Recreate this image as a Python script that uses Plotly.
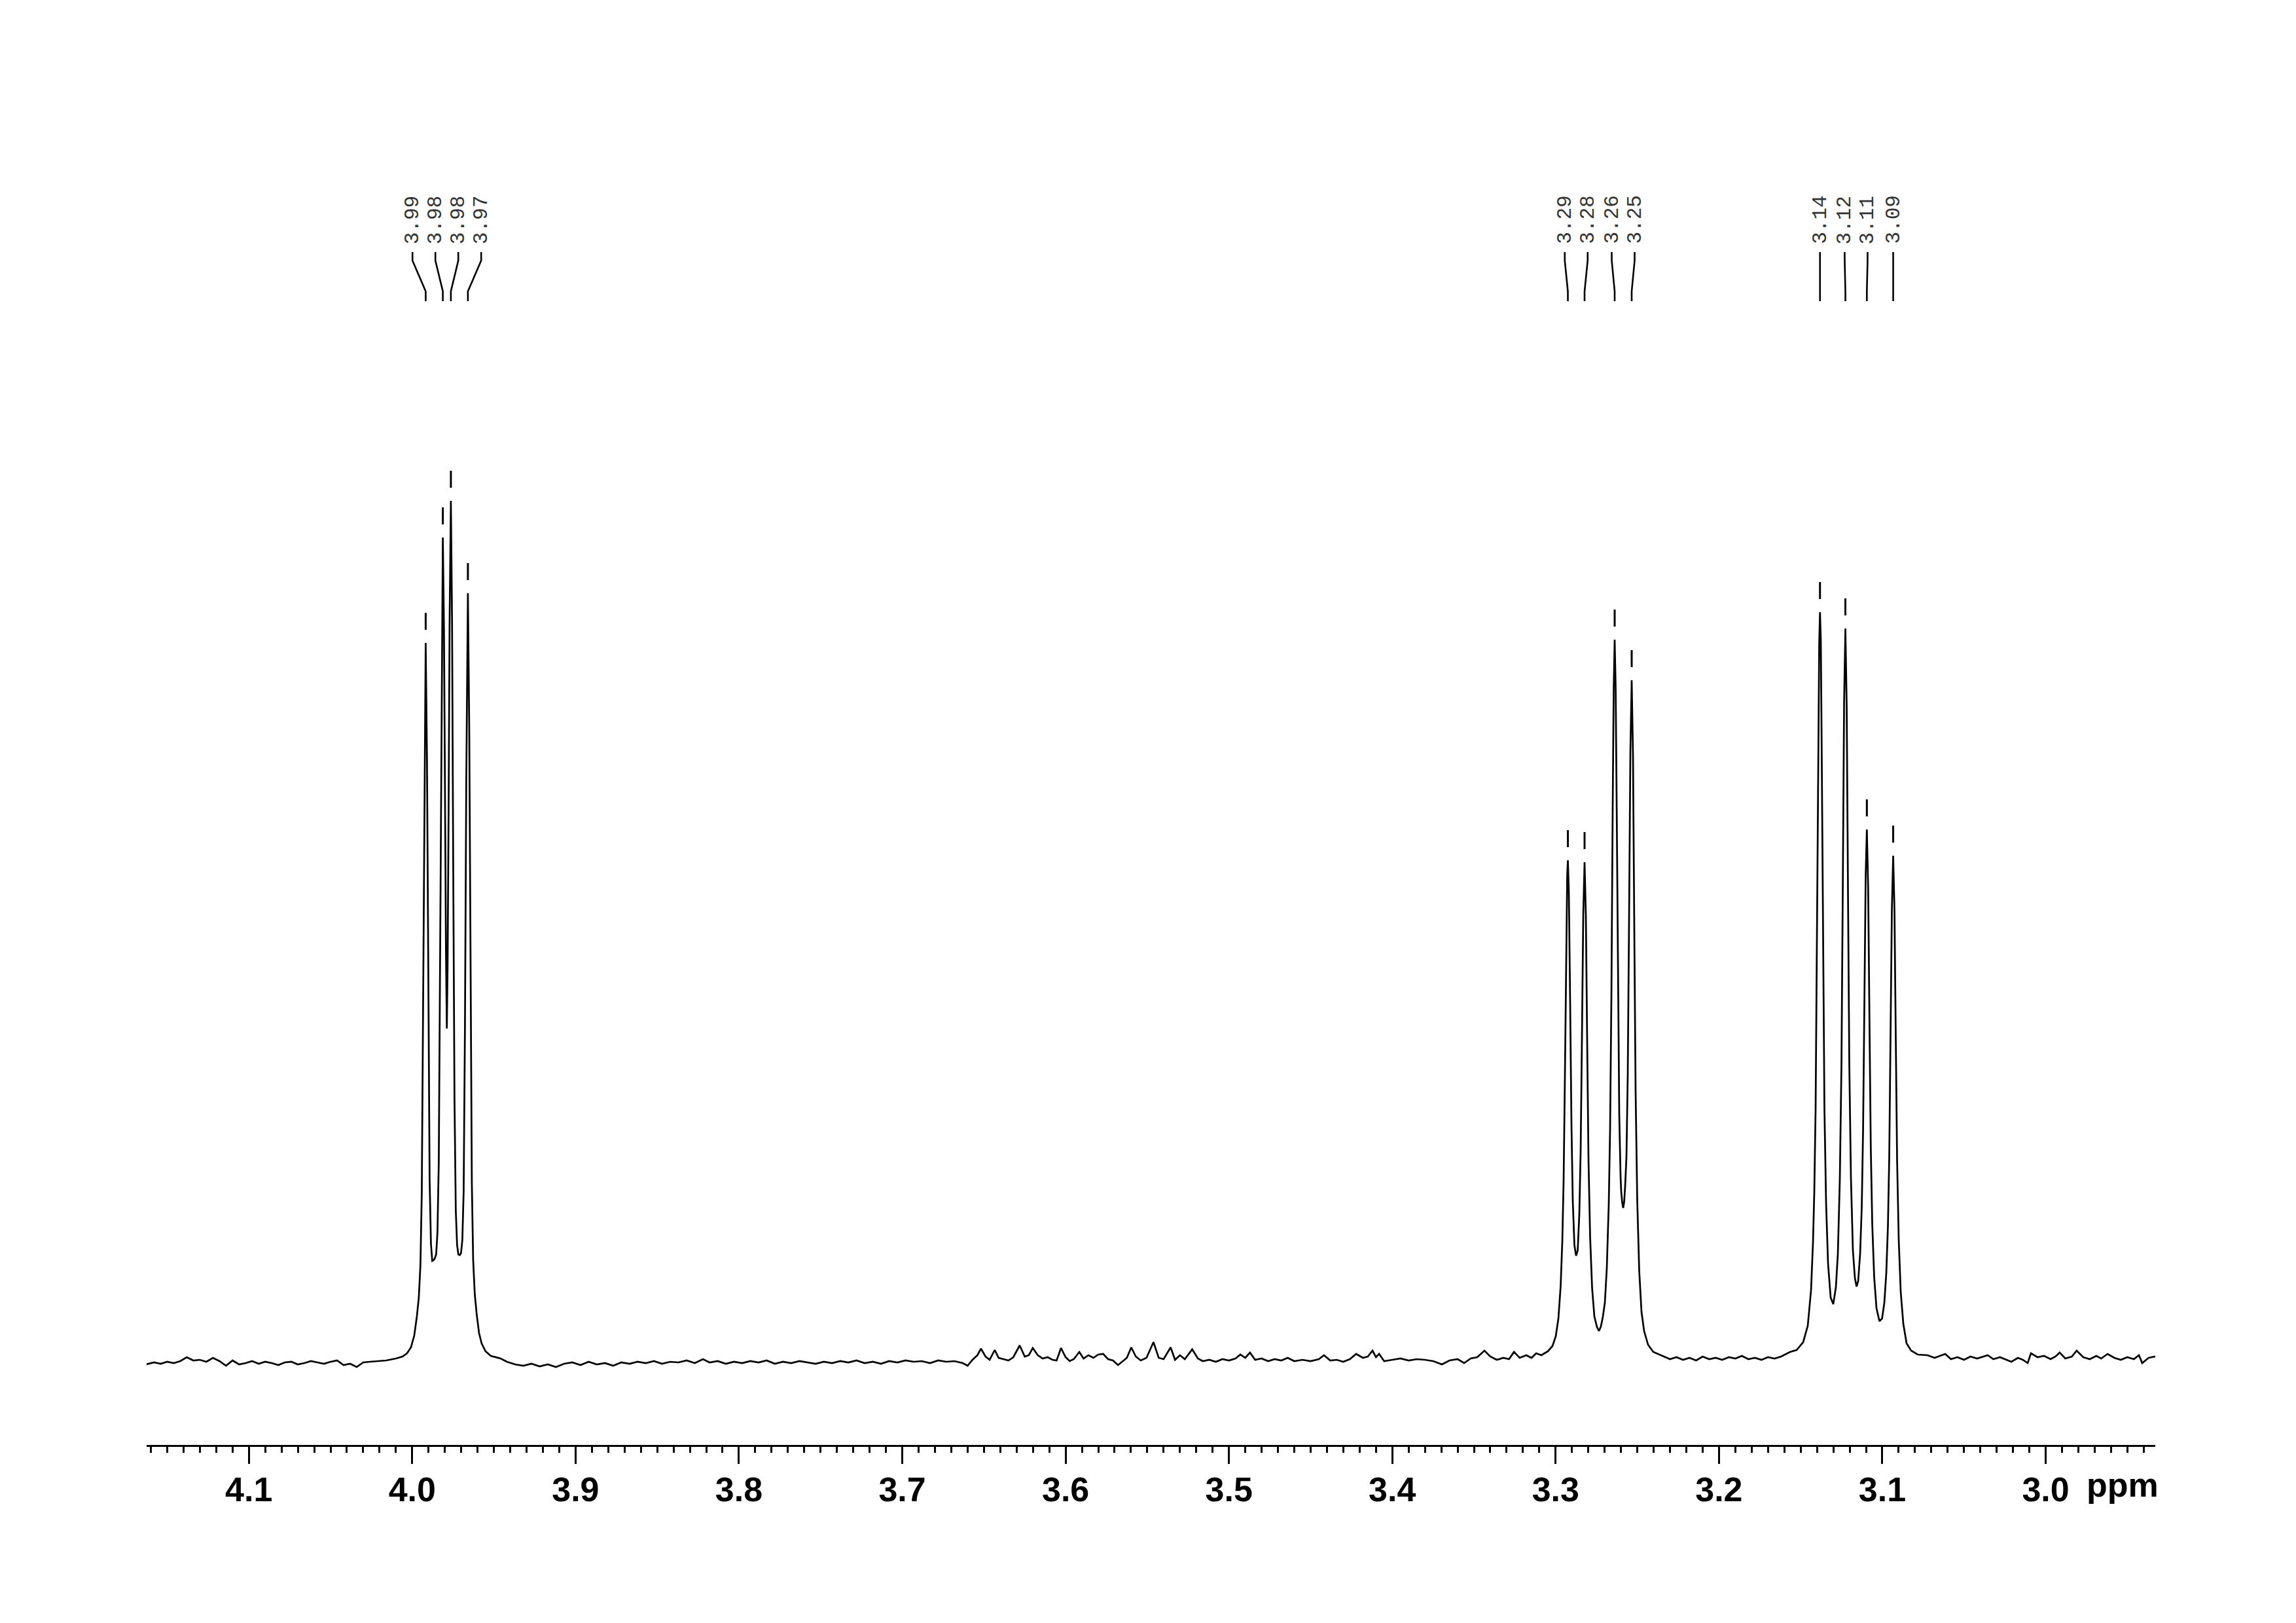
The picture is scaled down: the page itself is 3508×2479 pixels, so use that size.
import plotly.graph_objects as go

# ---------------- data: 1H NMR spectrum (chemical shift ppm, intensity a.u.) ----------------
base_left = [(4.163, -2), (4.158, 1), (4.154, -1), (4.150, 2), (4.146, 0), (4.142, 3), (4.138, 9),
             (4.134, 4), (4.130, 5), (4.126, 2), (4.122, 8), (4.118, 3), (4.114, -4), (4.110, 4),
             (4.106, -2), (4.102, 0), (4.098, 3), (4.094, -1), (4.090, 2), (4.086, 0), (4.082, -3),
             (4.078, 1), (4.074, 2), (4.070, -2), (4.066, 0), (4.062, 3), (4.058, 1), (4.054, -1),
             (4.050, 2), (4.046, 4), (4.042, -3), (4.038, -1), (4.034, -6), (4.030, 1), (4.026, 2),
             (4.022, 3)]

multiplet_399 = [(4.01599, 4), (4.00998, 7), (4.00597, 10), (4.00317, 15), (4.00077, 24), (3.99876, 42),
                 (3.99716, 71), (3.99596, 100), (3.99496, 150), (3.99415, 259), (3.99335, 547),
                 (3.99255, 913), (3.99175, 1100), (3.99095, 921), (3.99015, 562), (3.98935, 281),
                 (3.98854, 183), (3.98774, 156), (3.98694, 157), (3.98614, 160), (3.98534, 166),
                 (3.98454, 200), (3.98374, 306), (3.98294, 602), (3.98213, 1007), (3.98125, 1261),
                 (3.98053, 1116), (3.97973, 757), (3.97933, 630), (3.97881, 511), (3.97833, 607),
                 (3.97773, 842), (3.97712, 1129), (3.97632, 1317), (3.97560, 1131), (3.97492, 772),
                 (3.97412, 404), (3.97332, 233), (3.97252, 180), (3.97172, 166), (3.97091, 165),
                 (3.97011, 168), (3.96931, 188), (3.96851, 262), (3.96771, 512), (3.96691, 886),
                 (3.96591, 1176), (3.96510, 974), (3.96430, 581), (3.96350, 276), (3.96270, 158),
                 (3.96170, 105), (3.96050, 74), (3.95909, 46), (3.95749, 30), (3.95509, 18),
                 (3.95188, 11), (3.94587, 7)]

base_middle = [(3.942, 2), (3.937, -2), (3.932, -4), (3.927, -1), (3.922, -5), (3.917, -2), (3.912, -6),
               (3.907, -1), (3.902, 1), (3.897, -3), (3.892, 2), (3.887, -2), (3.882, 0), (3.877, -4),
               (3.872, 1), (3.867, -1), (3.862, 2), (3.857, 0), (3.852, 3), (3.847, -1), (3.842, 2),
               (3.837, 1), (3.832, 4), (3.827, 0), (3.822, 6), (3.818, 1), (3.813, 3), (3.808, -1),
               (3.803, 2), (3.798, 0), (3.793, 3), (3.788, 1), (3.783, 4), (3.778, -1), (3.773, 2),
               (3.768, 0), (3.763, 3), (3.758, 1), (3.753, -1), (3.748, 2), (3.743, 0), (3.738, 3),
               (3.733, 1), (3.728, 4), (3.723, 0), (3.718, 2), (3.713, -1), (3.708, 3), (3.703, 1),
               (3.698, 4), (3.693, 2), (3.688, 3), (3.683, 0), (3.678, 4), (3.673, 2), (3.668, 3),
               (3.663, 0), (3.660, -4), (3.657, 5), (3.654, 12), (3.6518, 22), (3.649, 10),
               (3.6465, 5), (3.6434, 20), (3.641, 8), (3.638, 6), (3.635, 4), (3.632, 9),
               (3.6281, 27), (3.625, 10), (3.6225, 12), (3.6201, 23), (3.617, 12), (3.614, 7),
               (3.611, 9), (3.608, 5), (3.6055, 4), (3.6028, 23), (3.600, 9), (3.5975, 3),
               (3.595, 6), (3.5916, 17), (3.589, 7), (3.586, 12), (3.583, 8), (3.580, 13),
               (3.577, 14), (3.574, 6), (3.571, 4), (3.5679, -3), (3.565, 3), (3.5625, 8),
               (3.5598, 24), (3.557, 10), (3.554, 4), (3.5505, 8), (3.5462, 32), (3.543, 8),
               (3.540, 6), (3.5357, 24), (3.533, 5), (3.530, 12), (3.527, 6), (3.5225, 21),
               (3.519, 7), (3.516, 3), (3.512, 5), (3.508, 2), (3.504, 6), (3.500, 4), (3.496, 7),
               (3.493, 13), (3.490, 8), (3.4871, 16), (3.484, 5), (3.480, 7), (3.476, 3),
               (3.472, 6), (3.468, 4), (3.464, 8), (3.460, 3), (3.455, 5), (3.450, 3), (3.445, 6),
               (3.4418, 12), (3.438, 4), (3.434, 5), (3.430, 2), (3.426, 6), (3.4221, 14),
               (3.418, 8), (3.415, 10), (3.4121, 19), (3.410, 9), (3.4081, 14), (3.405, 3),
               (3.400, 5), (3.395, 7), (3.390, 4), (3.385, 6), (3.380, 5), (3.375, 3),
               (3.3696, -2), (3.365, 4), (3.360, 6), (3.356, 0), (3.352, 7), (3.348, 9),
               (3.3436, 19), (3.340, 10), (3.336, 5), (3.332, 8), (3.3285, 6), (3.3255, 17),
               (3.322, 8), (3.318, 12)]

multiplet_327 = [(3.31475, 8), (3.3119, 15), (3.30874, 12), (3.30473, 18), (3.30193, 26), (3.29992, 41),
                 (3.29832, 68), (3.29692, 118), (3.29592, 186), (3.29512, 278), (3.29431, 440),
                 (3.29351, 640), (3.29291, 746), (3.29251, 768), (3.29191, 719), (3.29111, 550),
                 (3.29031, 364), (3.28951, 248), (3.28850, 180), (3.28750, 164), (3.28650, 172),
                 (3.28550, 228), (3.28470, 322), (3.28390, 495), (3.28309, 685), (3.28229, 765),
                 (3.28149, 683), (3.28069, 490), (3.27989, 311), (3.27889, 193), (3.27768, 115),
                 (3.27628, 71), (3.27468, 55), (3.27348, 49), (3.27228, 56), (3.27107, 71),
                 (3.26987, 92), (3.26867, 145), (3.26747, 243), (3.26667, 356), (3.26586, 562),
                 (3.26506, 853), (3.26446, 1028), (3.26386, 1105), (3.26326, 1032), (3.26266, 861),
                 (3.26186, 577), (3.26106, 380), (3.26025, 285), (3.25985, 262), (3.25925, 245),
                 (3.25865, 237), (3.25805, 246), (3.25745, 270), (3.25665, 315), (3.25585, 439),
                 (3.25505, 676), (3.25424, 935), (3.25344, 1043), (3.25264, 928), (3.25184, 660),
                 (3.25104, 414), (3.25004, 249), (3.24883, 141), (3.24743, 78), (3.24583, 49),
                 (3.24342, 28), (3.24022, 17), (3.23461, 11)]

base_gap = [(3.230, 6), (3.226, 9), (3.222, 5), (3.218, 8), (3.214, 4), (3.210, 10), (3.206, 6),
            (3.202, 8), (3.198, 5), (3.194, 9), (3.190, 7), (3.186, 11), (3.182, 6), (3.178, 8),
            (3.174, 5), (3.170, 9), (3.166, 7), (3.162, 10)]

multiplet_312 = [(3.15647, 17), (3.15247, 20), (3.14846, 32), (3.14565, 57), (3.14365, 111),
                 (3.14245, 184), (3.14165, 262), (3.14085, 387), (3.14004, 624), (3.13924, 930),
                 (3.13864, 1100), (3.13816, 1147), (3.13764, 1103), (3.13704, 912), (3.13624, 613),
                 (3.13544, 389), (3.13443, 244), (3.13323, 152), (3.13163, 100), (3.13003, 90),
                 (3.12842, 116), (3.12722, 167), (3.12602, 280), (3.12502, 455), (3.12422, 720),
                 (3.12341, 1007), (3.12261, 1122), (3.12181, 1002), (3.12101, 716), (3.12021, 455),
                 (3.11921, 282), (3.11801, 172), (3.11680, 130), (3.11580, 117), (3.11480, 125),
                 (3.11360, 167), (3.11260, 238), (3.11179, 355), (3.11099, 548), (3.11019, 745),
                 (3.10947, 815), (3.10867, 725), (3.10787, 520), (3.10707, 330), (3.10618, 213),
                 (3.10498, 131), (3.10358, 84), (3.10178, 64), (3.10017, 68), (3.09877, 92),
                 (3.09757, 138), (3.09657, 209), (3.09577, 314), (3.09496, 497), (3.09416, 693),
                 (3.09336, 775), (3.09256, 691), (3.09176, 494), (3.09096, 311), (3.08996, 189),
                 (3.08875, 109), (3.08715, 60), (3.08515, 30), (3.08234, 19), (3.07834, 13),
                 (3.07233, 12)]

base_right = [(3.068, 8), (3.0615, 14), (3.058, 6), (3.054, 9), (3.050, 5), (3.046, 10), (3.042, 7),
              (3.0355, 12), (3.032, 6), (3.028, 9), (3.024, 5), (3.021, 2), (3.017, 8), (3.014, 5),
              (3.011, 0), (3.009, 15), (3.005, 9), (3.001, 11), (2.997, 6), (2.994, 10),
              (2.9914, 16), (2.988, 7), (2.984, 10), (2.981, 19), (2.977, 9), (2.973, 6),
              (2.969, 11), (2.966, 7), (2.9621, 14), (2.958, 8), (2.954, 5), (2.950, 9),
              (2.946, 6), (2.9429, 12), (2.9409, 0), (2.937, 8), (2.933, 10), (2.931, 7)]

# picked peaks (ppm)
peak_ppm = [3.99175, 3.98125, 3.97632, 3.96591,
            3.29251, 3.28229, 3.26386, 3.25344,
            3.13816, 3.12261, 3.10947, 3.09336]

tick_vals = [4.1, 4.0, 3.9, 3.8, 3.7, 3.6, 3.5, 3.4, 3.3, 3.2, 3.1, 3.0]
tick_text = ["4.1", "4.0", "3.9", "3.8", "3.7", "3.6", "3.5", "3.4", "3.3", "3.2", "3.1", "3.0"]

# ---------------- assemble ----------------
segments = [base_left, multiplet_399, base_middle, multiplet_327, base_gap, multiplet_312, base_right]
ppm = [p for seg in segments for p, _ in seg]
inten = [v for seg in segments for _, v in seg]

X_MIN, X_MAX = 2.9329, 4.1626
Y_MIN, Y_MAX = -125, 1982
LABEL_SEP = 0.01402  # minimum spacing of peak labels (ppm)


def spread_labels(xs, sep):
    xs = sorted(xs)
    clusters = [[x] for x in xs]

    def positions(cl):
        c = sum(cl) / len(cl)
        n = len(cl)
        return [c + (i - (n - 1) / 2) * sep for i in range(n)]

    merged = True
    while merged:
        merged = False
        for i in range(len(clusters) - 1):
            a = positions(clusters[i])
            b = positions(clusters[i + 1])
            if b[0] - a[-1] < sep - 1e-9:
                clusters[i] = clusters[i] + clusters[i + 1]
                del clusters[i + 1]
                merged = True
                break
    out = {}
    for cl in clusters:
        for x, p in zip(cl, positions(cl)):
            out[x] = p
    return out


label_pos = spread_labels(peak_ppm, LABEL_SEP)

fig = go.Figure()

# spectrum
fig.add_trace(go.Scatter(x=ppm, y=inten, mode="lines",
                         line=dict(color="black", width=2.7), hoverinfo="skip"))

# peak tick marks above each peak
mx, my = [], []
for p in peak_ppm:
    h = inten[ppm.index(p)]
    mx += [p, p, None]
    my += [h + 20, h + 46, None]
fig.add_trace(go.Scatter(x=mx, y=my, mode="lines", line=dict(color="black", width=3),
                         hoverinfo="skip"))

# connectors from label to peak
Y_TOP, Y_BEND1, Y_BEND2, Y_BOT = 1697, 1684, 1637, 1622
cx, cy = [], []
for p in peak_ppm:
    lp = label_pos[p]
    cx += [lp, lp, p, p, None]
    cy += [Y_TOP, Y_BEND1, Y_BEND2, Y_BOT, None]
fig.add_trace(go.Scatter(x=cx, y=cy, mode="lines", line=dict(color="black", width=2.6),
                         hoverinfo="skip"))

# labels
for p in peak_ppm:
    fig.add_annotation(x=label_pos[p], y=1746, xref="x", yref="y", text=f"{p:.2f}",
                       textangle=-90, showarrow=False, xanchor="center", yanchor="middle",
                       font=dict(family="Liberation Mono, Courier New, monospace", size=31,
                                 color="#333333"))

# ppm unit label
fig.add_annotation(x=1.0, y=-0.029, xref="paper", yref="paper", text="ppm", showarrow=False,
                   xanchor="right", yanchor="middle", xshift=7,
                   font=dict(family="Liberation Sans, Arial, sans-serif", size=52, color="black",
                             weight="bold"))

# the page body adds an 8 px offset, so the figure is 8 px smaller and margins shifted
fig.update_layout(
    width=3500, height=2471,
    margin=dict(l=216, r=215, t=92, b=272, pad=0),
    paper_bgcolor="white", plot_bgcolor="white",
    showlegend=False,
    xaxis=dict(range=[X_MAX, X_MIN], showgrid=False, zeroline=False,
               showline=True, linecolor="black", linewidth=3,
               ticks="outside", ticklen=26, tickwidth=2.5, tickcolor="black",
               tickvals=tick_vals, ticktext=tick_text, ticklabelstandoff=-5,
               tickfont=dict(family="Liberation Sans, Arial, sans-serif", size=52,
                             color="black", weight="bold"),
               minor=dict(dtick=0.01, tick0=0, ticks="outside", ticklen=9, tickwidth=2.5,
                          tickcolor="black", showgrid=False)),
    yaxis=dict(range=[Y_MIN, Y_MAX], visible=False, showgrid=False, zeroline=False),
)

fig.write_html("out.html")
